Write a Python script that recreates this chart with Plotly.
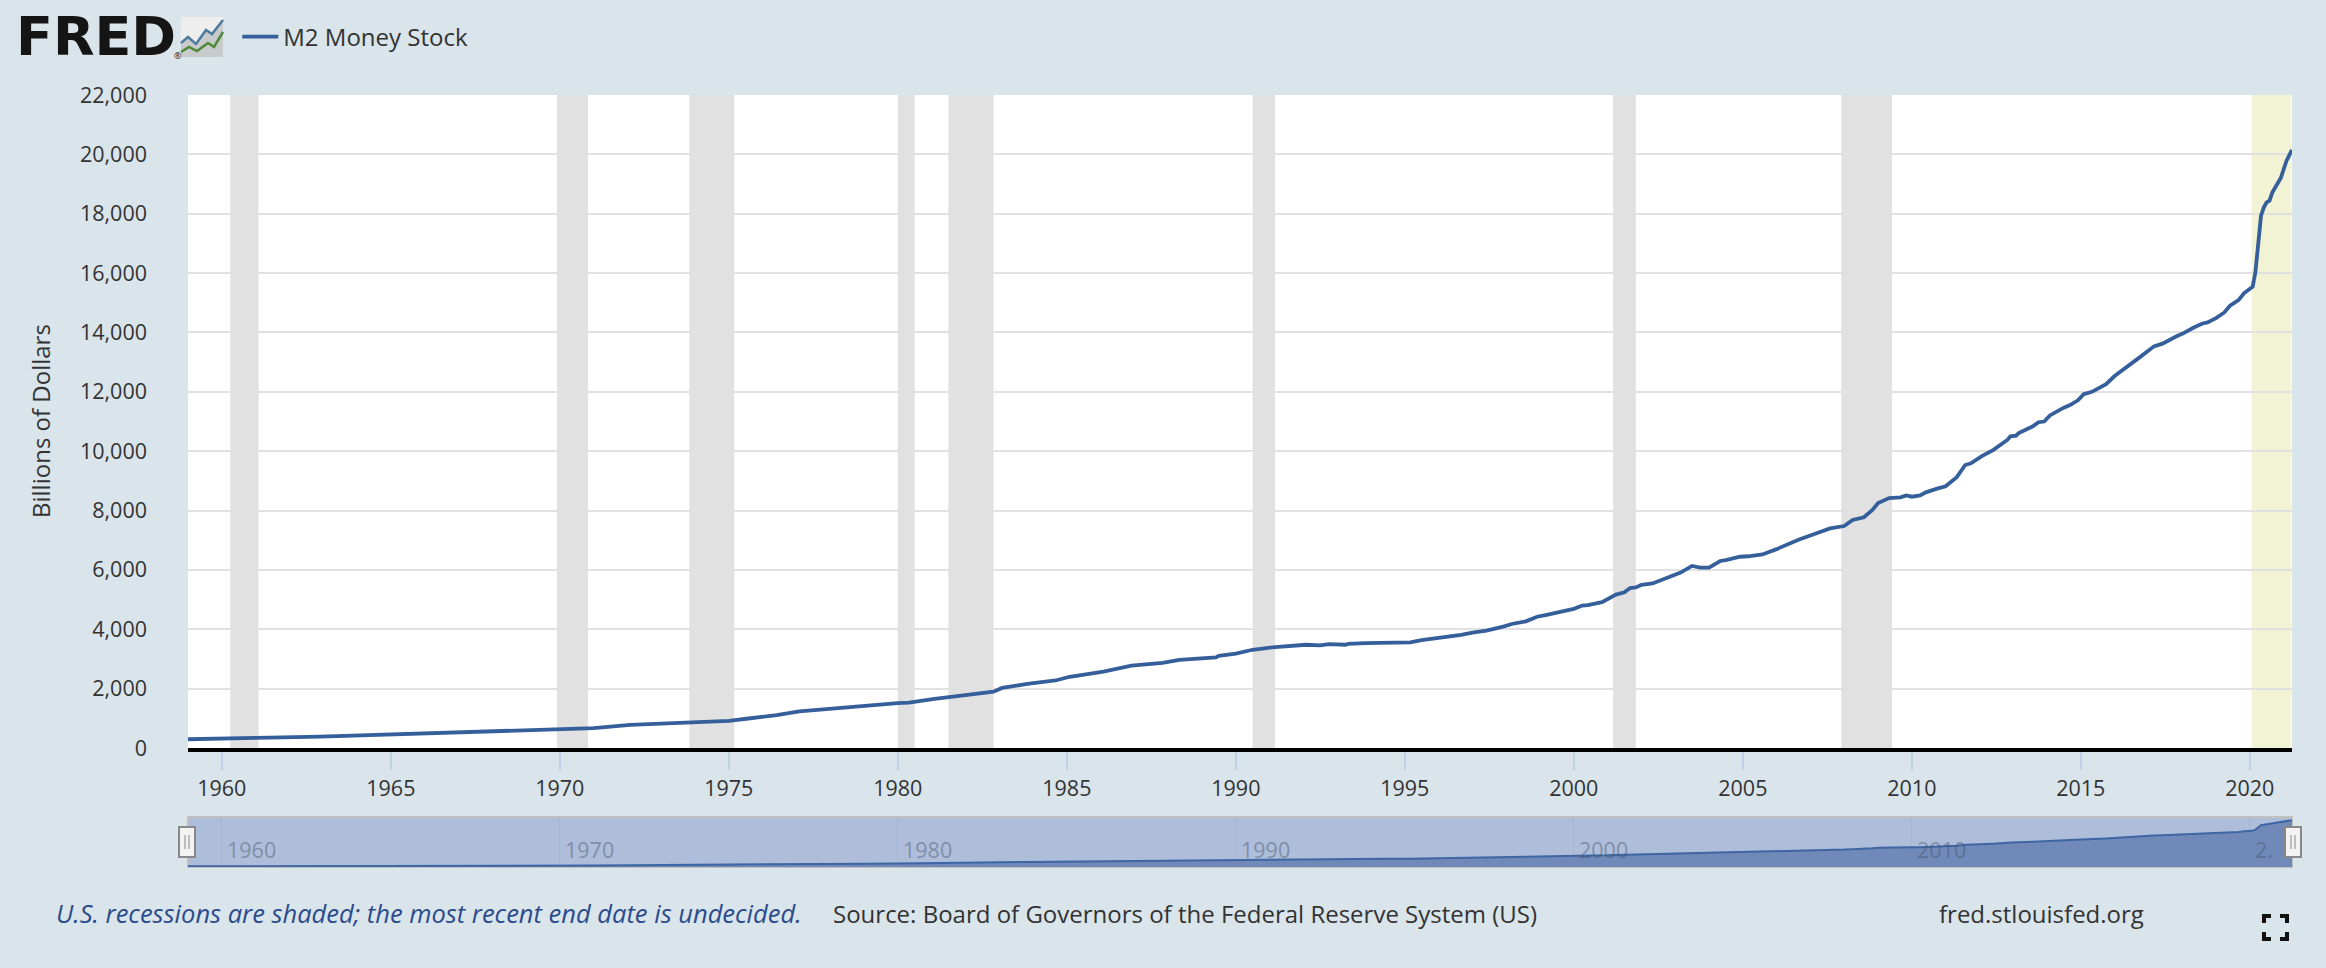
import plotly.graph_objects as go

# M2 money stock, billions of dollars
dates = ['1959-01', '1960-03', '1961-01', '1962-12', '1964-12', '1966-11', '1968-11', '1970-06',
         '1971-01', '1972-02', '1973-02', '1974-04', '1975-01', '1975-08', '1976-06', '1977-02',
         '1977-10', '1979-02', '1980-01', '1980-05', '1980-11', '1981-02', '1982-01', '1982-11',
         '1983-02', '1983-11', '1984-09', '1985-02', '1986-02', '1986-12', '1987-11', '1988-05',
         '1989-06', '1989-07', '1990-01', '1990-07', '1991-03', '1991-11', '1992-02', '1992-07',
         '1992-10', '1993-04', '1993-05', '1993-11', '1994-06', '1995-03', '1995-07', '1995-12',
         '1996-04', '1996-09', '1997-01', '1997-06', '1997-12', '1998-03', '1998-08', '1998-12',
         '1999-03', '1999-08', '2000-01', '2000-04', '2000-06', '2000-11', '2001-01', '2001-04',
         '2001-07', '2001-09', '2001-11', '2002-01', '2002-05', '2002-11', '2003-03', '2003-07',
         '2003-10', '2004-01', '2004-05', '2004-07', '2004-12', '2005-03', '2005-08', '2006-01',
         '2006-05', '2006-09', '2007-03', '2007-08', '2008-01', '2008-04', '2008-08', '2008-11',
         '2009-01', '2009-05', '2009-09', '2009-11', '2010-01', '2010-04', '2010-06', '2010-07',
         '2010-10', '2011-01', '2011-05', '2011-08', '2011-10', '2012-02', '2012-06', '2012-11',
         '2012-12', '2013-02', '2013-03', '2013-08', '2013-10', '2013-12', '2014-02', '2014-07',
         '2014-09', '2014-12', '2015-02', '2015-05', '2015-10', '2016-01', '2016-04', '2016-10',
         '2017-03', '2017-06', '2017-11', '2018-01', '2018-05', '2018-08', '2018-10', '2019-01',
         '2019-04', '2019-06', '2019-09', '2019-11', '2020-02', '2020-03', '2020-04', '2020-05',
         '2020-06', '2020-07', '2020-08', '2020-09', '2020-12', '2021-02', '2021-04']
m2_values = [294, 305, 339, 384, 452, 520, 588, 621,
             667, 780, 830, 880, 914, 994, 1109, 1234,
             1303, 1417, 1509, 1531, 1623, 1657, 1783, 1897,
             2023, 2160, 2274, 2400, 2571, 2777, 2869, 2971,
             3051, 3108, 3180, 3310, 3400, 3456, 3478, 3456,
             3500, 3478, 3511, 3533, 3544, 3556, 3633, 3689,
             3756, 3811, 3889, 3956, 4089, 4178, 4267, 4422,
             4478, 4578, 4689, 4800, 4811, 4911, 5022, 5167,
             5244, 5389, 5411, 5500, 5544, 5767, 5911, 6133,
             6078, 6078, 6300, 6333, 6444, 6460, 6520, 6700,
             6860, 7023, 7227, 7398, 7477, 7682, 7773, 8023,
             8250, 8420, 8443, 8511, 8466, 8511, 8613, 8636,
             8738, 8818, 9125, 9534, 9590, 9840, 10045, 10386,
             10500, 10522, 10613, 10840, 10976, 10999, 11204, 11465,
             11544, 11715, 11919, 11999, 12260, 12533, 12737, 13169,
             13532, 13623, 13873, 13953, 14157, 14293, 14337, 14483,
             14674, 14899, 15090, 15326, 15540, 16023, 16979, 17934,
             18215, 18384, 18440, 18721, 19204, 19788, 20148]

recession_starts = ['1960-04', '1969-12', '1973-11', '1980-01', '1981-07', '1990-07', '2001-03', '2007-12']
recession_ends = ['1961-02', '1970-11', '1975-03', '1980-07', '1982-11', '1991-03', '2001-11', '2009-06']
open_recession = ['2020-01-20', '2021-03-25']

nav_labels = ['1960', '1970', '1980', '1990', '2000', '2010', '2020']
nav_label_text = ['1960', '1970', '1980', '1990', '2000', '2010', '2.']

W, H = 2326, 968
LEFT, RIGHT, TOP, BOTTOM = 188, 2292, 95, 867
BG = '#d9e4eb'
BLUE = '#355f9b'
FONT = 'Open Sans'


def px_x(x):
    return (x - LEFT) / (RIGHT - LEFT)


def px_y(y):
    return (BOTTOM - y) / (BOTTOM - TOP)


def box(x0, y0, x1, y1, **kw):
    return dict(type='rect', xref='paper', yref='paper', x0=px_x(x0), x1=px_x(x1),
                y0=px_y(y0), y1=px_y(y1), **kw)


def poly(points, closed=False, **kw):
    path = 'M ' + ' L '.join(f'{px_x(x):.5f},{px_y(y):.5f}' for x, y in points)
    if closed:
        path += ' Z'
    return dict(type='path', xref='paper', yref='paper', path=path, **kw)


fig = go.Figure()

fig.add_trace(go.Scatter(x=dates, y=m2_values, mode='lines', name='M2 Money Stock',
                         line=dict(color=BLUE, width=3.8), xaxis='x', yaxis='y'))
fig.add_trace(go.Scatter(x=dates, y=m2_values, mode='lines', showlegend=False, fill='tozeroy',
                         fillcolor='#7089b9', line=dict(color='#3d66a2', width=2),
                         xaxis='x2', yaxis='y2'))

shapes = []
for s, e in zip(recession_starts, recession_ends):
    shapes.append(dict(type='rect', xref='x', yref='y domain', x0=s, x1=e, y0=0, y1=1,
                       fillcolor='#e1e1e1', line_width=0, layer='below'))
shapes.append(dict(type='rect', xref='x', yref='y domain', x0=open_recession[0], x1=open_recession[1],
                   y0=0, y1=1, fillcolor='#f2f3d5', line_width=0, layer='below'))

# navigator band
shapes.append(dict(type='rect', xref='x2 domain', yref='y2 domain', x0=0, x1=1, y0=0, y1=1,
                   fillcolor='#adbdda', line=dict(color='#c0c0c0', width=2), layer='below'))

# navigator handles
for hx in [187, 2293]:
    shapes.append(box(hx - 8, 827, hx + 8, 857, fillcolor='#f2f2f2', line=dict(color='#888888', width=2)))
    for dx in [-2, 2]:
        shapes.append(poly([(hx + dx, 835), (hx + dx, 849)], line=dict(color='#888888', width=1)))

# logo icon
shapes.append(box(181, 17, 223, 57, fillcolor='#c8cacb', line_width=0))
shapes.append(poly([(181, 17), (223, 17), (223, 20), (212, 34), (206, 30), (196, 44), (188, 37), (181, 43)],
                   closed=True, fillcolor='#eeeeee', line_width=0))
shapes.append(poly([(181, 43), (188, 37), (196, 44), (206, 30), (212, 34), (223, 20)],
                   line=dict(color='#4d7c9e', width=2.5)))
shapes.append(poly([(181, 52), (189, 47), (197, 51), (208, 43), (214, 47), (223, 32)],
                   line=dict(color='#4f8a3a', width=2.5)))

# fullscreen icon
for cx, cy, sx, sy in [(2264, 916, 1, 1), (2287, 916, -1, 1), (2264, 939, 1, -1), (2287, 939, -1, -1)]:
    shapes.append(poly([(cx + 7 * sx, cy), (cx, cy), (cx, cy + 7 * sy)], line=dict(color='#111111', width=4)))

annotations = [
    dict(text='FRED', xref='paper', yref='paper', x=px_x(14), y=px_y(37), xanchor='left', yanchor='middle',
         showarrow=False, font=dict(family='DejaVu Sans', size=54, color='#151515', weight=700)),
    dict(text='®', xref='paper', yref='paper', x=px_x(178), y=px_y(55), xanchor='center', yanchor='middle',
         showarrow=False, font=dict(family=FONT, size=9, color='#151515')),
    dict(text='Billions of Dollars', xref='paper', yref='paper', x=px_x(41), y=px_y(421), textangle=-90,
         xanchor='center', yanchor='middle', showarrow=False, font=dict(family=FONT, size=24, color='#333333')),
    dict(text='U.S. recessions are shaded; the most recent end date is undecided.', xref='paper', yref='paper',
         x=px_x(54), y=px_y(913), xanchor='left', yanchor='middle', showarrow=False,
         font=dict(family=FONT, size=25.5, color='#2b4b8c', style='italic')),
    dict(text='Source: Board of Governors of the Federal Reserve System (US)', xref='paper', yref='paper',
         x=px_x(831), y=px_y(913), xanchor='left', yanchor='middle', showarrow=False,
         font=dict(family=FONT, size=24, color='#333333')),
    dict(text='fred.stlouisfed.org', xref='paper', yref='paper',
         x=px_x(1937), y=px_y(913), xanchor='left', yanchor='middle', showarrow=False,
         font=dict(family=FONT, size=24, color='#333333')),
]
for year, label in zip(nav_labels, nav_label_text):
    annotations.append(dict(text=label, xref='x2', yref='paper', x=year + '-01-01', y=px_y(849), xshift=3,
                            xanchor='left', yanchor='middle', showarrow=False,
                            font=dict(family=FONT, size=21.5, color='rgba(70,80,100,0.45)')))

x_range = ['1959-01-01', '2021-04-01']

fig.update_layout(
    width=W, height=H,
    margin=dict(l=LEFT, r=W - RIGHT, t=TOP, b=H - BOTTOM, pad=0, autoexpand=False),
    paper_bgcolor=BG, plot_bgcolor='white',
    font=dict(family=FONT, size=21.5, color='#333333'),
    showlegend=True,
    legend=dict(xref='container', yref='container', x=0.102, y=0.985, xanchor='left', yanchor='top',
                bgcolor='rgba(0,0,0,0)', itemwidth=36, font=dict(family=FONT, size=24, color='#333333')),
    xaxis=dict(domain=[0, 1], anchor='y', range=x_range, type='date', tick0='1960-01-01', dtick='M60',
               tickformat='%Y', ticks='outside', ticklen=18, tickwidth=2, tickcolor='#c0d0e8',
               showgrid=False, showline=True, linecolor='black', linewidth=4, zeroline=False),
    yaxis=dict(domain=[px_y(748), 1], anchor='x', range=[0, 22000], dtick=2000, tickformat=',',
               gridcolor='#e1e1e1', gridwidth=2, zeroline=False, ticks='', ticklabelstandoff=40),
    xaxis2=dict(domain=[0, 1], anchor='y2', range=x_range, type='date', tick0='1960-01-01', dtick='M120',
                showticklabels=False, ticks='', showgrid=True, gridcolor='#a5b5d3', gridwidth=1,
                zeroline=False, showline=False),
    yaxis2=dict(domain=[0, px_y(817)], anchor='x2', range=[0, 21500], showticklabels=False, ticks='',
                showgrid=False, zeroline=False),
    shapes=shapes,
    annotations=annotations,
)

fig.write_html('out.html', config={'displayModeBar': False},
               post_script="document.body.style.margin='0';")
